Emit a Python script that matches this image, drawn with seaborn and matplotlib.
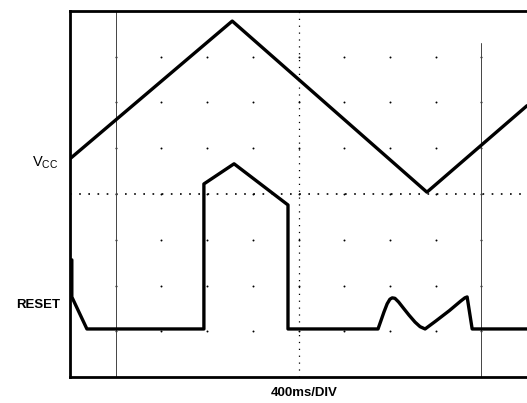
import seaborn as sns
import matplotlib.pyplot as plt
import numpy as np

# scope screen: 10 x 8 divisions
vcc_t = [0.0, 3.55, 7.81, 10.0]
vcc_v = [4.77, 7.78, 4.04, 5.93]

reset_t = [0.04, 0.04, 0.37, 2.93, 2.93, 3.59, 4.77, 4.77, 6.74,
           6.80, 6.87, 6.94, 7.00, 7.05, 7.11, 7.19, 7.30, 7.42, 7.55, 7.66, 7.77,
           8.00, 8.30, 8.55, 8.64, 8.69, 8.80, 10.0]
reset_v = [2.56, 1.75, 1.05, 1.05, 4.22, 4.66, 3.76, 1.05, 1.05,
           1.22, 1.42, 1.60, 1.70, 1.73, 1.72, 1.64, 1.50, 1.35, 1.20, 1.10, 1.05,
           1.22, 1.45, 1.66, 1.73, 1.75, 1.05, 1.05]

sns.set_style('white')
fig = plt.figure(figsize=(5.27, 4.03), dpi=100)
ax = fig.add_axes([70 / 527, 26 / 403, 457 / 527, 366 / 403])

# graticule dots
gx, gy = np.meshgrid(np.arange(1, 10), np.arange(1, 8))
ax.scatter(gx.ravel(), gy.ravel(), s=2, color='black', linewidths=0, zorder=1)

# center lines (dotted with minor ticks)
ax.axhline(4, color='black', lw=1.2, linestyle=(0, (1, 4.5)), zorder=1)
ax.axvline(5, color='black', lw=0.9, linestyle=(0, (1, 4.5)), zorder=1)

# faint vertical scan lines
ax.plot([1, 1], [0, 8], color='#444444', lw=0.7, zorder=1)
ax.plot([9, 9], [0, 7.3], color='#444444', lw=0.7, zorder=1)

sns.lineplot(x=vcc_t, y=vcc_v, sort=False, estimator=None, color='black',
             lw=2.4, ax=ax, zorder=3)
sns.lineplot(x=reset_t, y=reset_v, sort=False, estimator=None, color='black',
             lw=2.4, ax=ax, zorder=3)

ax.set_xlim(0, 10)
ax.set_ylim(0, 8)
ax.set_xticks([])
ax.set_yticks([])
for side in ['left', 'bottom', 'top']:
    ax.spines[side].set_color('black')
    ax.spines[side].set_linewidth(2)
ax.spines['right'].set_visible(False)

fig.text(58 / 527, 1 - 163 / 403, r'V$_{\mathregular{CC}}$', ha='right', va='center',
         fontsize=10.5, family='Liberation Sans', color='black')
fig.text(60 / 527, 1 - 305 / 403, 'RESET', ha='right', va='center',
         fontsize=9.5, fontweight='bold', family='Liberation Sans', color='black')
fig.text(304 / 527, 1 - 393 / 403, '400ms/DIV', ha='center', va='center',
         fontsize=9.5, fontweight='bold', family='Liberation Sans', color='black')

fig.savefig('out.png', dpi=100)
